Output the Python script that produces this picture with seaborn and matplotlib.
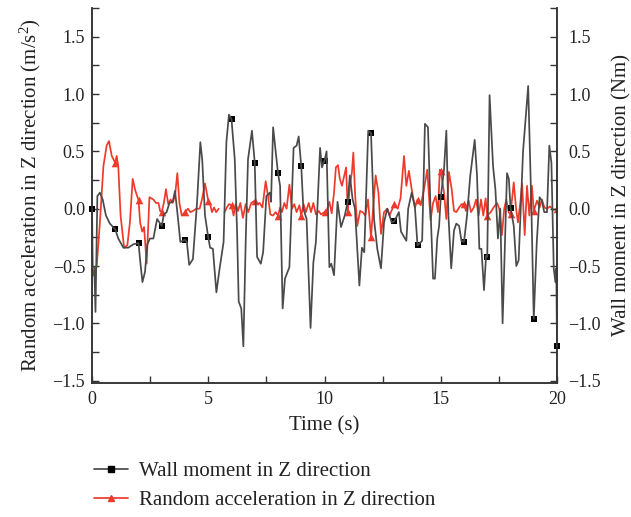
import numpy as np
import pandas as pd
import matplotlib
matplotlib.use("Agg")
import matplotlib.pyplot as plt
from matplotlib.lines import Line2D
from matplotlib.ticker import MultipleLocator
import seaborn as sns

# Wall moment in Z direction (Nm), right axis
moment_time = [
    0.0, 0.03, 0.10, 0.15, 0.23, 0.34, 0.46, 0.60, 0.77, 1.0,
    1.13, 1.35, 1.56, 1.78, 2.0, 2.08, 2.17, 2.28, 2.38, 2.49,
    2.64, 2.80, 3.0, 3.09, 3.21, 3.33, 3.47, 3.57, 3.67, 3.80,
    4.0, 4.08, 4.18, 4.34, 4.52, 4.66, 4.74, 4.86, 5.0, 5.08,
    5.20, 5.35, 5.49, 5.66, 5.78, 5.89, 6.0, 6.14, 6.24, 6.31,
    6.42, 6.51, 6.61, 6.71, 6.88, 7.0, 7.10, 7.26, 7.36, 7.50,
    7.65, 7.70, 7.79, 7.90, 8.0, 8.09, 8.20, 8.30, 8.49, 8.67,
    8.80, 8.89, 9.0, 9.09, 9.23, 9.40, 9.52, 9.63, 9.81, 9.89,
    10.0, 10.09, 10.21, 10.29, 10.41, 10.56, 10.71, 10.87, 11.0, 11.09,
    11.21, 11.31, 11.50, 11.61, 11.71, 11.88, 12.0, 12.13, 12.27, 12.43,
    12.56, 12.70, 12.89, 13.0, 13.20, 13.29, 13.52, 13.60, 13.75, 13.89,
    14.0, 14.20, 14.32, 14.45, 14.56, 14.67, 14.75, 14.85, 14.93, 15.0,
    15.14, 15.24, 15.33, 15.45, 15.57, 15.67, 15.79, 15.89, 16.0, 16.13,
    16.27, 16.46, 16.56, 16.66, 16.75, 16.86, 16.95, 17.0, 17.10, 17.25,
    17.35, 17.46, 17.56, 17.66, 17.85, 17.93, 18.0, 18.14, 18.25, 18.35,
    18.54, 18.76, 18.90, 19.0, 19.13, 19.25, 19.35, 19.45, 19.57, 19.67,
    19.76, 19.86, 19.93, 19.97, 20.0,
]
moment_value = [
    0.0, -0.50, -0.52, -0.90, 0.11, 0.14, 0.08, -0.06, -0.13, -0.18,
    -0.26, -0.34, -0.34, -0.31, -0.30, -0.47, -0.64, -0.55, -0.31, -0.26,
    -0.26, -0.09, -0.15, -0.05, -0.03, 0.05, 0.06, 0.155, -0.03, -0.29,
    -0.27, -0.29, -0.49, -0.44, 0.06, 0.58, 0.43, -0.06, -0.25, -0.34,
    -0.35, -0.73, -0.52, -0.29, 0.58, 0.82, 0.78, 0.43, -0.20, -0.81,
    -0.87, -1.20, -0.29, 0.43, 0.68, 0.40, -0.42, -0.48, -0.38, 0.11,
    0.14, 0.06, 0.71, 0.50, 0.31, 0.20, -0.87, -0.61, -0.51, 0.53,
    0.55, 0.63, 0.37, 0.0, -0.09, -1.04, -0.47, -0.29, 0.53, 0.36,
    0.42, 0.50, -0.51, -0.48, -0.58, 0.06, -0.16, -0.06, 0.06, 0.29,
    0.08, 0.0, -0.67, -0.34, -0.38, 0.68, 0.66, -0.09, -0.35, -0.52,
    -0.12, 0.0, -0.12, -0.11, -0.03, -0.20, -0.28, 0.0, 0.14, 0.01,
    -0.32, -0.28, 0.74, 0.71, 0.0, -0.61, -0.61, -0.26, -0.15, 0.10,
    0.34, 0.68, -0.06, -0.52, -0.19, -0.13, -0.15, -0.28, -0.29, -0.06,
    0.29, 0.60, 0.29, -0.35, -0.35, -0.71, -0.41, -0.42, 0.99, 0.37,
    0.17, -0.26, 0.0, -1.0, 0.31, 0.26, 0.01, -0.15, -0.50, -0.45,
    0.50, 1.07, 0.0, -0.96, -0.29, 0.10, 0.07, -0.03, -0.03, 0.55,
    0.40, -0.52, -0.64, -0.52, -1.20,
]

# Random acceleration in Z direction (m/s^2), left axis; NaN marks a gap
accel_time = [
    0.0, 0.10, 0.20, 0.34, 0.49, 0.63, 0.73, 0.85, 1.0, 1.06,
    1.13, 1.23, 1.38, 1.52, 1.63, 1.75, 1.86, 2.0, 2.07, 2.16,
    2.24, 2.35, 2.47, 2.64, 2.75, 2.86, 2.93, 3.0, 3.09, 3.18,
    3.28, 3.38, 3.47, 3.57, 3.67, 3.76, 3.86, 4.0, 4.13, 4.23,
    4.34, 4.49, 4.63, 4.74, 4.86, 5.0, 5.08, 5.16, 5.25, 5.34,
    5.45, 5.55, 5.70, 5.80, 5.89, 6.0, 6.09, 6.18, 6.28, 6.38,
    6.49, 6.61, 6.72, 6.85, 7.0, 7.10, 7.21, 7.33, 7.47, 7.57,
    7.67, 7.78, 7.90, 8.0, 8.09, 8.17, 8.27, 8.37, 8.49, 8.60,
    8.70, 8.80, 8.92, 9.0, 9.10, 9.20, 9.32, 9.42, 9.52, 9.63,
    9.75, 9.85, 10.0, 10.09, 10.21, 10.31, 10.41, 10.49, 10.58, 10.66,
    10.75, 10.85, 10.93, 11.0, 11.09, 11.18, 11.24, 11.32, 11.41, 11.53,
    11.64, 11.75, 11.87, 12.0, 12.09, 12.20, 12.32, 12.43, 12.56, 12.70,
    12.80, 12.92, 13.0, 13.15, 13.27, 13.42, 13.52, 13.63, 13.75, 13.89,
    14.0, 14.14, 14.28, 14.42, 14.56, 14.67, 14.78, 14.88, 14.96, 15.0,
    15.14, 15.24, 15.35, 15.47, 15.57, 15.67, 15.79, 15.90, 16.0, 16.08,
    16.20, 16.30, 16.42, 16.52, 16.63, 16.73, 16.83, 16.93, 17.0, 17.15,
    17.27, 17.42, 17.52, 17.63, 17.73, 17.82, 17.92, 18.0, 18.14, 18.24,
    18.32, 18.42, 18.50, 18.61, 18.71, 18.81, 18.92, 19.0, 19.14, 19.25,
    19.35, 19.46, 19.57, 19.70, 19.85, 20.0,
]
accel_value = [
    -0.55, -0.53, -0.51, -0.12, 0.37, 0.55, 0.59, 0.46, 0.40, 0.46,
    0.37, -0.06, -0.34, -0.32, -0.12, 0.26, 0.16, 0.075, -0.12, -0.20,
    -0.16, -0.48, 0.10, 0.08, 0.05, 0.05, -0.02, -0.03, 0.05, 0.17,
    0.04, 0.08, 0.05, 0.11, 0.31, 0.05, -0.06, -0.03, 0.0, -0.03,
    -0.02, 0.0, 0.0, 0.09, 0.22, 0.07, 0.04, -0.03, 0.01, -0.03,
    0.0, np.nan, -0.03, 0.01, 0.04, 0.03, -0.06, 0.04, -0.02, 0.05,
    -0.08, 0.04, -0.03, 0.05, 0.07, 0.04, 0.05, 0.01, 0.24, 0.11,
    -0.05, -0.06, -0.03, -0.06, 0.01, -0.03, 0.05, 0.0, 0.21, 0.0,
    0.04, -0.03, 0.03, -0.06, 0.04, -0.03, 0.05, -0.03, 0.05, -0.05,
    -0.02, -0.05, -0.03, -0.02, 0.06, -0.04, 0.14, 0.36, 0.38, 0.26,
    0.20, 0.29, 0.36, -0.03, 0.20, 0.32, 0.49, 0.11, -0.15, -0.02,
    -0.03, -0.06, 0.08, -0.25, 0.0, 0.29, 0.14, -0.22, -0.03, 0.0,
    -0.06, 0.0, 0.04, 0.0, 0.09, 0.46, 0.20, 0.33, 0.17, 0.01,
    0.08, 0.03, 0.17, 0.34, -0.10, 0.05, 0.11, -0.03, 0.34, 0.33,
    0.14, -0.09, 0.32, 0.17, -0.02, -0.03, 0.01, 0.04, 0.04, -0.02,
    0.07, -0.03, 0.01, 0.08, -0.06, 0.08, -0.06, 0.09, -0.06, -0.03,
    0.01, 0.05, 0.0, -0.23, 0.0, 0.08, -0.03, -0.05, 0.23, 0.0,
    -0.12, 0.05, 0.22, -0.23, 0.20, -0.06, 0.20, -0.02, 0.07, 0.01,
    0.08, 0.01, 0.0, 0.02, -0.01, 0.0,
]

series_labels = ["Wall moment in Z direction", "Random acceleration in Z direction"]
x_label = "Time (s)"
left_label = "Random acceleration in Z direction (m/s$^{2}$)"
right_label = "Wall moment in Z direction (Nm)"

GREY = "#4a4a4a"
RED = "#ee3a2a"

sns.set_theme(style="ticks")
plt.rcParams["font.family"] = ["Liberation Serif", "DejaVu Serif"]
plt.rcParams["mathtext.fontset"] = "custom"
plt.rcParams["mathtext.rm"] = "Liberation Serif"
plt.rcParams["mathtext.it"] = "Liberation Serif:italic"

moment = pd.DataFrame({"time": moment_time, "value": moment_value})
accel = pd.DataFrame({"time": accel_time, "value": accel_value})
accel["segment"] = accel["value"].isna().cumsum()
accel = accel.dropna()


def whole_seconds(df):
    return df[np.isclose(df["time"], np.round(df["time"]))]


fig = plt.figure(figsize=(6.31, 5.17), dpi=100)
ax = fig.add_axes([92 / 631, 1 - 383 / 517, 465 / 631, 375 / 517])
ax2 = ax.twinx()

sns.lineplot(data=accel, x="time", y="value", units="segment", estimator=None,
             sort=False, color=RED, lw=1.25, ax=ax, legend=False)
sns.scatterplot(data=whole_seconds(accel), x="time", y="value", marker="^",
                s=30, color=RED, edgecolor=RED, linewidth=0, ax=ax, legend=False)

sns.lineplot(data=moment, x="time", y="value", estimator=None, sort=False,
             color=GREY, lw=1.25, ax=ax2, legend=False)
sns.scatterplot(data=whole_seconds(moment), x="time", y="value", marker="s",
                s=20, color="black", edgecolor="black", linewidth=0, ax=ax2,
                legend=False, clip_on=False)

ylim = (-1.52, 1.75)
for a in (ax, ax2):
    a.set_ylim(*ylim)
    a.set_xlim(0, 20)
    a.yaxis.set_major_locator(MultipleLocator(0.5))
    a.yaxis.set_minor_locator(MultipleLocator(0.25))
    a.spines["top"].set_visible(False)
    for s in ("left", "right", "bottom"):
        a.spines[s].set_linewidth(1.1)
        a.spines[s].set_color("#333333")
ax.xaxis.set_major_locator(MultipleLocator(5))
ax.xaxis.set_minor_locator(MultipleLocator(2.5))

ax.tick_params(axis="both", which="both", direction="in", labelsize=13,
               colors="#333333", labelcolor="#222222", width=1.0)
ax.tick_params(axis="both", which="major", length=5, pad=5)
ax.tick_params(axis="both", which="minor", length=5)
ax.tick_params(axis="x", which="major", pad=6)
ax2.tick_params(axis="y", which="both", direction="in", labelsize=13,
                colors="#333333", labelcolor="#222222", width=1.0, length=5, pad=8)

ax.set_xlabel(x_label, fontsize=15, color="#222222", labelpad=6)
ax.set_ylabel(left_label, fontsize=15, color="#222222", labelpad=7)
ax2.set_ylabel(right_label, fontsize=15, color="#222222", labelpad=8)

handles = [
    Line2D([], [], color=GREY, lw=1.25, marker="s", markersize=4,
           markerfacecolor="black", markeredgecolor="black"),
    Line2D([], [], color=RED, lw=1.25, marker="^", markersize=5,
           markerfacecolor=RED, markeredgecolor=RED),
]
fig.legend(handles, series_labels, loc="center left",
           bbox_to_anchor=(84 / 631, 1 - 486 / 517), frameon=False,
           fontsize=15, handlelength=1.6, handletextpad=0.55,
           labelspacing=0.45, borderpad=0, labelcolor="#222222")

fig.savefig("out.png", dpi=100)
